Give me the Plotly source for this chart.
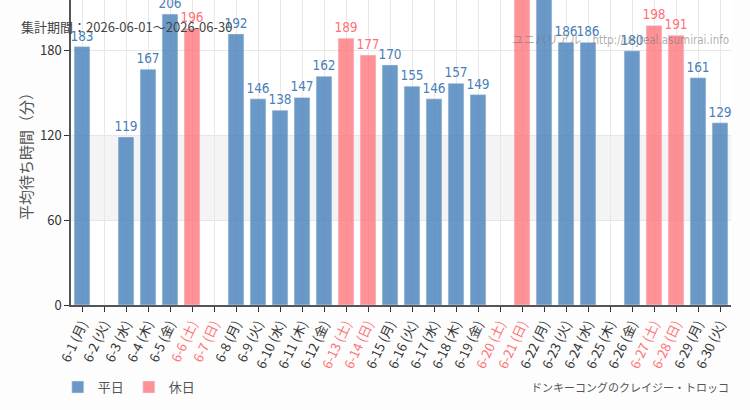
import plotly.graph_objects as go

days = ["6-1 (月)", "6-2 (火)", "6-3 (水)", "6-4 (木)", "6-5 (金)", "6-6 (土)", "6-7 (日)",
        "6-8 (月)", "6-9 (火)", "6-10 (水)", "6-11 (木)", "6-12 (金)", "6-13 (土)", "6-14 (日)",
        "6-15 (月)", "6-16 (火)", "6-17 (水)", "6-18 (木)", "6-19 (金)", "6-20 (土)", "6-21 (日)",
        "6-22 (月)", "6-23 (火)", "6-24 (水)", "6-25 (木)", "6-26 (金)", "6-27 (土)", "6-28 (日)",
        "6-29 (月)", "6-30 (火)"]
holiday = [False, False, False, False, False, True, True,
           False, False, False, False, False, True, True,
           False, False, False, False, False, True, True,
           False, False, False, False, False, True, True,
           False, False]
waits = [183, None, 119, 167, 206, 196, None,
         192, 146, 138, 147, 162, 189, 177,
         170, 155, 146, 157, 149, None, 232,
         224, 186, 186, None, 180, 198, 191,
         161, 129]

BLUE = "rgba(70,128,185,0.8)"
RED = "rgba(255,110,116,0.75)"
BLUE_T = "#4a80b8"
RED_T = "#ff7176"

x = list(range(len(days)))
wk = [None if (h or v is None) else v for v, h in zip(waits, holiday)]
hd = [v if (h and v is not None) else None for v, h in zip(waits, holiday)]

label_font = "DejaVu Sans Condensed, Liberation Sans Narrow, Roboto, sans-serif"

fig = go.Figure()
fig.add_trace(go.Bar(x=x, y=wk, name="平日", marker_color=BLUE, width=0.72,
                     text=[("" if v is None else str(v)) for v in wk], textposition="outside",
                     textfont=dict(color=BLUE_T, size=13.5, family=label_font),
                     constraintext="none", cliponaxis=False))
fig.add_trace(go.Bar(x=x, y=hd, name="休日", marker_color=RED, width=0.72,
                     text=[("" if v is None else str(v)) for v in hd], textposition="outside",
                     textfont=dict(color=RED_T, size=13.5, family=label_font),
                     constraintext="none", cliponaxis=False))

ticktext = [f"<span style='color:{RED_T}'>{d}</span>" if h else d for d, h in zip(days, holiday)]

fig.update_layout(
    width=750, height=410,
    margin=dict(l=71, r=19, t=0, b=105),
    paper_bgcolor="#fdfdfd", plot_bgcolor="#ffffff",
    barmode="overlay",
    font=dict(family="Noto Sans CJK JP, sans-serif", color="#333", size=13),
    xaxis=dict(tickmode="array", tickvals=x, ticktext=ticktext, tickangle=-65,
               range=[-0.5, len(days) - 0.5], showgrid=True, gridcolor="#e8e8e8",
               ticks="outside", ticklen=5, tickcolor="#333", showline=True,
               linecolor="#555", linewidth=1.5, tickfont=dict(size=13, color="#333")),
    yaxis=dict(range=[0, 216], tickvals=[0, 60, 120, 180], showgrid=True, gridcolor="#e6e6e6",
               ticks="outside", ticklen=5, tickcolor="#333", showline=True,
               linecolor="#555", linewidth=1.5, zeroline=False,
               tickfont=dict(size=13, color="#333"),
               title=dict(text="平均待ち時間（分）", font=dict(size=15, color="#555"), standoff=4)),
    legend=dict(orientation="h", x=-0.02, y=-0.22, xanchor="left", yanchor="top",
                font=dict(size=13, color="#555"), bgcolor="rgba(0,0,0,0)"),
    shapes=[dict(type="rect", xref="paper", yref="y", x0=0, x1=1, y0=60, y1=120,
                 fillcolor="#f4f4f4", line_width=0, layer="below")],
    annotations=[
        dict(text="集計期間：2026-06-01～2026-06-30", xref="paper", yref="paper",
             x=-0.079, y=1.0, xanchor="left", yanchor="top", yshift=-15, showarrow=False,
             font=dict(size=13, color="#444")),
        dict(text="ユニバリアル　http://usjreal.asumirai.info", xref="paper", yref="paper",
             x=1.0, y=1.0, xanchor="right", yanchor="top", yshift=-31, showarrow=False,
             font=dict(size=11.5, color="rgba(120,120,120,0.6)",
                       family="DejaVu Sans Condensed, Noto Sans CJK JP, sans-serif")),
        dict(text="ドンキーコングのクレイジー・トロッコ", xref="paper", yref="paper",
             x=1.0, y=0, xanchor="right", yanchor="top", yshift=-72, showarrow=False,
             font=dict(size=11, color="#555")),
    ],
)

fig.write_html("out.html")
